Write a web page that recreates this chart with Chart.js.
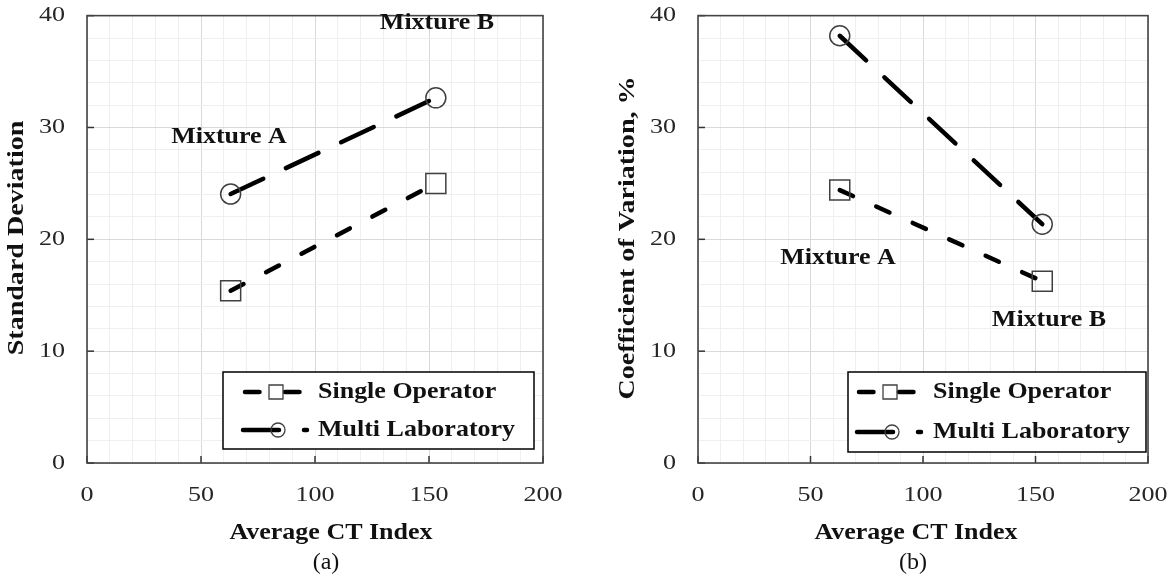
<!DOCTYPE html>
<html>
<head>
<meta charset="utf-8">
<script src="https://cdn.jsdelivr.net/npm/chart.js@4.4.0/dist/chart.umd.min.js"></script>
<style>
  body { margin: 0; background: #fff; }
  #wrap { position: relative; width: 1173px; height: 585px; }
  .pane { position: absolute; top: 0; height: 585px; }
</style>
</head>
<body>
<div id="wrap">
  <div class="pane" style="left:0;width:586px"><canvas id="chartA"></canvas></div>
  <div class="pane" style="left:586px;width:587px"><canvas id="chartB"></canvas></div>
</div>
<script>
// values
var ctIndex = [63, 153];
var sdSingle = [15.4, 25.0];
var sdMulti = [24.05, 32.65];
var cvSingle = [24.4, 16.25];
var cvMulti = [38.2, 21.35];
var xTicks = [0, 50, 100, 150, 200];
var yTicks = [0, 10, 20, 30, 40];
var seriesNames = ['Single Operator', 'Multi Laboratory'];
var mixtureNames = ['Mixture A', 'Mixture B'];

var SERIF = '"Liberation Serif", "Times New Roman", serif';

function points(xs, ys) {
    return xs.map(function (x, i) { return { x: x, y: ys[i] }; });
}

// the original text is wider than Times, so stretch along the baseline
function drawText(ctx, s, x, y, font, sx, align, rot, color) {
    ctx.save();
    ctx.translate(x, y);
    if (rot) ctx.rotate(rot);
    ctx.scale(sx, 1);
    ctx.font = font;
    ctx.fillStyle = color || '#111';
    ctx.textAlign = align || 'center';
    ctx.textBaseline = 'middle';
    ctx.fillText(s, 0, 0);
    ctx.restore();
}

function legendSample(ctx, x, y, dash, marker) {
    ctx.save();
    ctx.strokeStyle = '#000';
    ctx.lineWidth = 4.5;
    ctx.lineCap = 'round';
    ctx.setLineDash(dash);
    ctx.beginPath();
    if (marker === 'rect') { ctx.moveTo(x + 2, y); ctx.lineTo(x + 57, y); }
    else { ctx.moveTo(x, y); ctx.lineTo(x + 64, y); }
    ctx.stroke();
    ctx.setLineDash([]);
    ctx.strokeStyle = '#404040';
    ctx.lineWidth = 1.3;
    ctx.beginPath();
    if (marker === 'rect') ctx.rect(x + 26, y - 7, 14, 14);
    else ctx.arc(x + 35, y, 7, 0, Math.PI * 2);
    ctx.stroke();
    ctx.restore();
}

function makeChart(id, single, multi, p) {
    var decor = {
        id: 'decor',
        beforeDatasetsDraw: function (chart) {
            var ctx = chart.ctx, a = chart.chartArea;
            var xs = chart.scales.x, ys = chart.scales.y;
            ctx.save();
            ctx.strokeStyle = '#333';
            ctx.lineWidth = 1.5;
            xTicks.forEach(function (v) {
                var px = xs.getPixelForValue(v);
                ctx.beginPath(); ctx.moveTo(px, a.bottom); ctx.lineTo(px, a.bottom - 7); ctx.stroke();
            });
            yTicks.forEach(function (v) {
                var py = ys.getPixelForValue(v);
                ctx.beginPath(); ctx.moveTo(a.left, py); ctx.lineTo(a.left + 7, py); ctx.stroke();
            });
            ctx.strokeStyle = '#444';
            ctx.lineWidth = 1.6;
            ctx.strokeRect(a.left, a.top, a.right - a.left, a.bottom - a.top);
            ctx.restore();
        },
        afterDraw: function (chart) {
            var ctx = chart.ctx, a = chart.chartArea;
            var xs = chart.scales.x, ys = chart.scales.y;
            var tickFont = '21px ' + SERIF;
            var boldFont = 'bold 23px ' + SERIF;
            xTicks.forEach(function (v) {
                drawText(ctx, String(v), xs.getPixelForValue(v), a.bottom + 32, tickFont, 1.24, 'center', 0, '#262626');
            });
            yTicks.forEach(function (v) {
                drawText(ctx, String(v), a.left - 22, ys.getPixelForValue(v), tickFont, 1.24, 'right', 0, '#262626');
            });
            drawText(ctx, 'Average CT Index', p.xTitle[0], p.xTitle[1], boldFont, 1.13, 'center');
            drawText(ctx, p.yTitle, p.yTitlePos[0], p.yTitlePos[1], boldFont, 1.22, 'center', -Math.PI / 2);
            drawText(ctx, p.caption, p.capPos[0], p.capPos[1], '24px ' + SERIF, 1.0, 'center');
            drawText(ctx, mixtureNames[0], p.mixA[0], p.mixA[1], boldFont, 1.13, 'center');
            drawText(ctx, mixtureNames[1], p.mixB[0], p.mixB[1], boldFont, 1.13, 'center');

            // legend box
            var L = p.legend;
            ctx.save();
            ctx.fillStyle = '#fff';
            ctx.fillRect(L.x, L.y, L.w, L.h);
            ctx.strokeStyle = '#000';
            ctx.lineWidth = 1.5;
            ctx.strokeRect(L.x, L.y, L.w, L.h);
            ctx.restore();
            legendSample(ctx, L.sx, L.rows[0], [14.5, 25.5], 'rect');
            legendSample(ctx, L.sx, L.rows[1], [36, 25], 'circle');
            drawText(ctx, seriesNames[0], L.tx, L.rows[0], boldFont, 1.13, 'left');
            drawText(ctx, seriesNames[1], L.tx, L.rows[1], boldFont, 1.13, 'left');
        }
    };

    return new Chart(document.getElementById(id), {
        type: 'scatter',
        data: {
            datasets: [{
                label: seriesNames[0],
                data: points(ctIndex, single),
                showLine: true,
                borderColor: '#000',
                borderWidth: 4.5,
                borderCapStyle: 'round',
                borderDash: [14.5, 25.5],
                pointStyle: 'rect',
                pointRadius: 14.14,
                pointHoverRadius: 14.14,
                pointBorderColor: '#404040',
                pointBorderWidth: 1.5,
                pointBackgroundColor: 'rgba(0,0,0,0)'
            }, {
                label: seriesNames[1],
                data: points(ctIndex, multi),
                showLine: true,
                borderColor: '#000',
                borderWidth: 4.5,
                borderCapStyle: 'round',
                borderDash: [36, 25],
                pointStyle: 'circle',
                pointRadius: 10,
                pointHoverRadius: 10,
                pointBorderColor: '#404040',
                pointBorderWidth: 1.5,
                pointBackgroundColor: 'rgba(0,0,0,0)'
            }]
        },
        options: {
            responsive: true,
            maintainAspectRatio: false,
            animation: false,
            layout: { padding: p.padding },
            plugins: {
                legend: { display: false },
                tooltip: { enabled: false }
            },
            scales: {
                x: {
                    type: 'linear',
                    min: 0, max: 200,
                    ticks: { stepSize: 10, display: false },
                    border: { display: false },
                    grid: {
                        drawTicks: false,
                        lineWidth: 1,
                        color: function (c) { return c.tick && c.tick.value % 50 === 0 ? '#d9d9d9' : '#efefef'; }
                    }
                },
                y: {
                    min: 0, max: 40,
                    ticks: { stepSize: 2, display: false },
                    border: { display: false },
                    grid: {
                        drawTicks: false,
                        lineWidth: 1,
                        color: function (c) { return c.tick && c.tick.value % 10 === 0 ? '#d9d9d9' : '#efefef'; }
                    }
                }
            }
        },
        plugins: [decor]
    });
}

makeChart('chartA', sdSingle, sdMulti, {
    padding: { left: 87, right: 43, top: 13, bottom: 122 },
    yTitle: 'Standard Deviation',
    yTitlePos: [17, 238],
    xTitle: [331, 533],
    caption: '(a)',
    capPos: [326, 563],
    mixA: [229, 137],
    mixB: [437, 23],
    legend: { x: 223, y: 372, w: 311, h: 77, sx: 243, tx: 318, rows: [392, 430] }
});

makeChart('chartB', cvSingle, cvMulti, {
    padding: { left: 112, right: 25, top: 13, bottom: 122 },
    yTitle: 'Coefficient of Variation, %',
    yTitlePos: [42, 238],
    xTitle: [330, 533],
    caption: '(b)',
    capPos: [327, 563],
    mixA: [252, 258],
    mixB: [463, 320],
    legend: { x: 262, y: 372, w: 298, h: 80, sx: 271, tx: 347, rows: [392, 432] }
});
</script>
</body>
</html>
